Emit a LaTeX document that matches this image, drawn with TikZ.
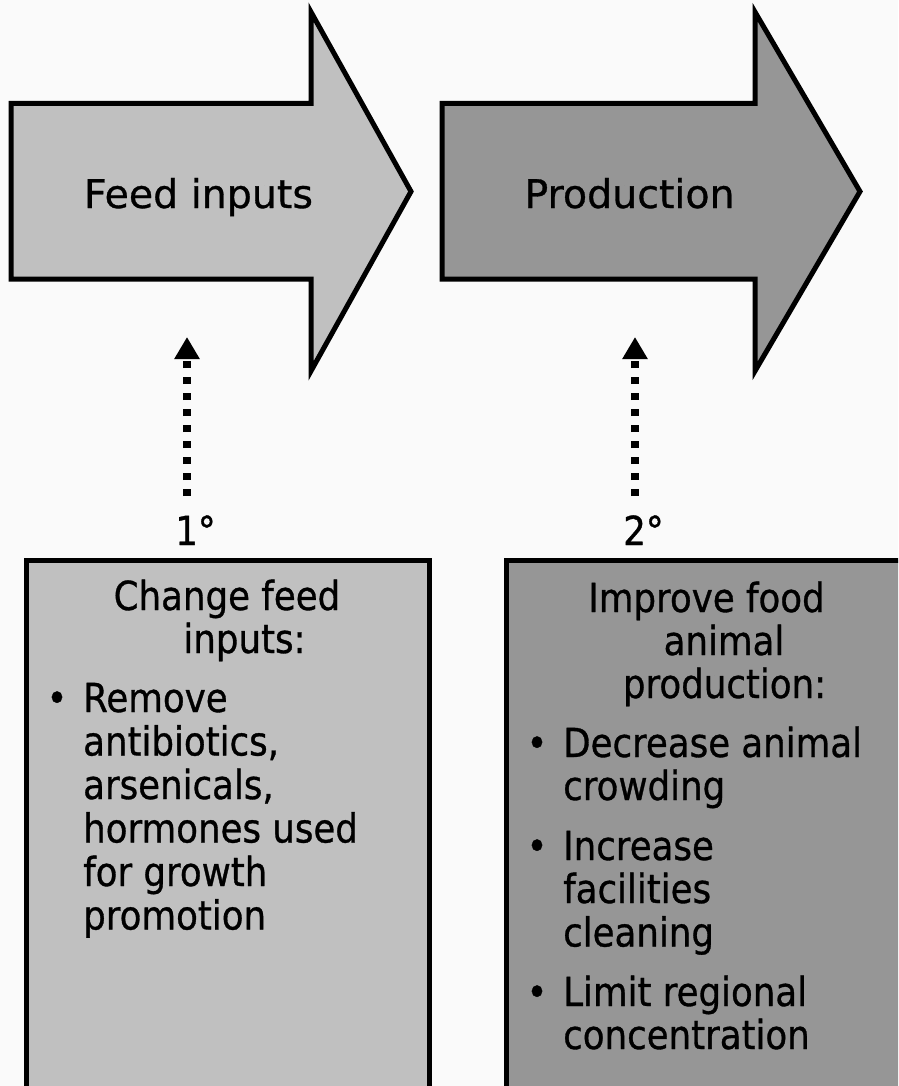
\documentclass[tikz,border=0pt]{standalone}
\usepackage{fontspec}
\setmainfont{DejaVu Sans}[FakeBold=0.8]
\newfontfamily\boxfont{DejaVu Sans}[FakeStretch=0.89,FakeBold=0.8]
\usetikzlibrary{arrows.meta}
\definecolor{bg}{HTML}{FAFAFA}
\definecolor{lightg}{HTML}{C0C0C0}
\definecolor{darkg}{HTML}{969696}
\tikzset{
  bigshape/.style={draw=black, line width=5pt, line join=miter},
  title/.style={font=\fontsize{39.5}{47}\selectfont, inner sep=0pt, anchor=base},
  txt/.style={font=\boxfont\fontsize{40}{48}\selectfont, inner sep=0pt, anchor=base west},
  ctr/.style={txt, anchor=base},
  dotarrow/.style={line width=7.5pt, dash pattern=on 7.5pt off 8.5pt, -{Triangle[width=24pt,length=22pt]}}
}
\begin{document}
\begin{tikzpicture}[x=1pt,y=-1pt]
\path[use as bounding box, fill=bg] (0,0) rectangle (898,1086);
\clip (0,0) rectangle (898,1086);

% big arrows
\draw[bigshape, fill=lightg] (11,103.5) -- (311,103.5) -- (311,12) -- (411,191.5) -- (311,371) -- (311,279) -- (11,279) -- cycle;
\draw[bigshape, fill=darkg] (442,103.5) -- (755,103.5) -- (755,12) -- (860,191.5) -- (755,371) -- (755,279) -- (442,279) -- cycle;
\node[title] (feed) at (198.5,208) {Feed inputs};
\node[title] (prod) at (629.5,208) {Production};

% dotted arrows
\coordinate (d1s) at (187,496);
\coordinate (d1e) at (187,337);
\coordinate (d2s) at (635,496);
\coordinate (d2e) at (635,337);
\draw[dotarrow] (d1s) -- (d1e);
\draw[dotarrow] (d2s) -- (d2e);
\node[ctr] (one) at (195.5,545) {1°};
\node[ctr] (two) at (643.5,545) {2°};

% boxes
\draw[bigshape, fill=lightg] (26.5,560) rectangle (429,1100);
\draw[bigshape, fill=darkg] (506,560) rectangle (910,1100);

% box 1 text
\node[ctr] (b1h1) at (227,610) {Change feed};
\node[ctr] (b1h2) at (244.5,653) {inputs:};
\node[ctr] (b1b1) at (57,712) {•};
\node[txt] (b1l1) at (83,712) {Remove};
\node[txt] (b1l2) at (83,755.5) {antibiotics,};
\node[txt] (b1l3) at (83,799) {arsenicals,};
\node[txt] (b1l4) at (83,842.5) {hormones used};
\node[txt] (b1l5) at (83,886) {for growth};
\node[txt] (b1l6) at (83,929.5) {promotion};

% box 2 text
\node[ctr] (b2h1) at (706.5,612) {Improve food};
\node[ctr] (b2h2) at (724,655) {animal};
\node[ctr] (b2h3) at (724.5,698) {production:};
\node[ctr] (b2b1) at (537,757) {•};
\node[txt] (b2l1) at (563,757) {Decrease animal};
\node[txt] (b2l2) at (563,800) {crowding};
\node[ctr] (b2b2) at (537,860) {•};
\node[txt] (b2l3) at (563,860) {Increase};
\node[txt] (b2l4) at (563,903) {facilities};
\node[txt] (b2l5) at (563,946.5) {cleaning};
\node[ctr] (b2b3) at (537,1006) {•};
\node[txt] (b2l6) at (563,1006) {Limit regional};
\node[txt] (b2l7) at (563,1049) {concentration};
\end{tikzpicture}
\end{document}
